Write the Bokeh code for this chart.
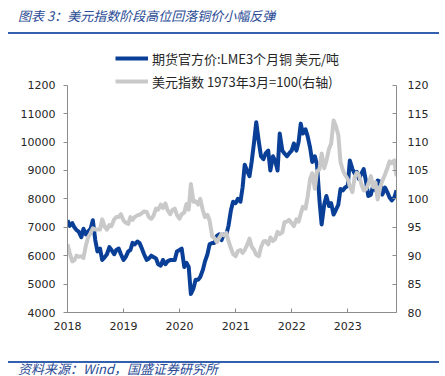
from datetime import datetime
import pandas as pd
from bokeh.plotting import figure
from bokeh.layouts import column
from bokeh.models import (Range1d, LinearAxis, FixedTicker, DatetimeTickFormatter,
                          Legend, LegendItem, Div)
from bokeh.embed import file_html
from bokeh.resources import INLINE

# ---------------- data (semi-monthly readings, 1st and 15th) ----------------
dates = pd.date_range("2018-01-01", "2023-11-15", freq="SMS")

copper = [
    # 2018
    7250, 7050, 7150, 7000, 6900, 6850, 6650, 6950, 6750, 6850, 6950, 7250,
    6550, 6150, 6250, 5850, 5950, 6050, 6300, 6200, 6050, 6200, 6250, 6050,
    # 2019
    5850, 5950, 6150, 6200, 6450, 6400, 6500, 6450, 6250, 6050, 5850, 5900,
    6000, 5950, 5900, 5700, 5650, 5850, 5700, 5800, 5850, 5850, 5850, 6150,
    # 2020
    6200, 6250, 5600, 5750, 5600, 4650, 4850, 5150, 5150, 5250, 5500, 5800,
    6050, 6400, 6450, 6450, 6700, 6750, 6550, 6750, 6750, 7050, 7600, 7900,
    # 2021
    7850, 8000, 7900, 8400, 9200, 9000, 8800, 9300, 10000, 10700, 10000, 9500,
    9400, 9600, 9700, 9000, 9500, 9350, 9000, 10300, 9700, 9600, 9500, 9600,
    # 2022
    9700, 9950, 9700, 10000, 10650, 10300, 10450, 10200, 9800, 9300, 9500, 9200,
    7950, 7100, 7800, 8100, 7750, 7850, 7450, 7600, 7800, 8350, 8300, 8400,
    # 2023
    8450, 9350, 9050, 8900, 8950, 8700, 8900, 9050, 8600, 8100, 8150, 8450,
    8300, 8650, 8600, 8150, 8400, 8250, 8050, 7950, 8050, 8300,
]

dxy = [
    # 2018
    92.0, 90.5, 89.0, 89.2, 90.0, 89.8, 89.9, 89.6, 91.8, 93.2, 94.0, 94.8,
    94.6, 94.6, 94.6, 96.4, 95.1, 94.6, 95.4, 95.2, 96.4, 96.8, 96.8, 97.3,
    # 2019
    96.2, 95.8, 95.6, 96.8, 96.3, 96.8, 97.1, 97.2, 97.5, 97.8, 97.7, 96.8,
    96.5, 97.0, 98.3, 98.1, 99.0, 98.4, 99.2, 98.0, 97.3, 98.0, 98.3, 97.2,
    # 2020
    96.5, 97.3, 97.6, 99.1, 98.1, 102.6, 99.5, 99.6, 99.0, 100.0, 98.0, 96.8,
    97.2, 96.2, 93.4, 93.1, 92.4, 93.1, 93.8, 93.6, 94.0, 92.6, 91.3, 90.3,
    # 2021
    89.9, 90.8, 91.0, 90.5, 91.0, 91.8, 93.0, 91.6, 91.0, 90.2, 89.9, 91.5,
    92.5, 92.6, 92.0, 93.2, 92.6, 92.9, 94.2, 93.8, 94.1, 95.9, 96.0, 96.3,
    # 2022
    95.7, 95.2, 96.4, 96.0, 97.4, 98.6, 98.3, 100.4, 103.5, 104.5, 101.8, 104.9,
    105.2, 108.0, 105.4, 106.7, 108.8, 109.7, 113.8, 112.9, 111.2, 106.5, 105.0, 104.2,
    # 2023
    103.5, 102.2, 101.2, 103.8, 104.6, 104.2, 102.5, 101.5, 101.7, 102.6, 104.0, 102.1,
    102.9, 99.9, 102.0, 103.2, 104.3, 105.3, 106.6, 106.3, 106.8, 104.0,
]

year_ticks = [datetime(y, 1, 1) for y in range(2018, 2024)]
left_ticks = [4000, 5000, 6000, 7000, 8000, 9000, 10000, 11000, 12000]
right_ticks = [80, 85, 90, 95, 100, 105, 110, 115, 120]

copper_label = "期货官方价:LME3个月铜 美元/吨"
dxy_label = "美元指数 1973年3月=100(右轴)"
title_text = "图表 3：美元指数阶段高位回落铜价小幅反弹"
source_text = "资料来源：Wind，国盛证券研究所"

BLUE = "#0A3F97"
GRAY = "#C9C9C9"
AXIS = "#8C8C8C"
TXT = "#262626"
HEAD = "#2A4B95"
RULE = "#3260AE"
CJK = "Noto Sans CJK SC"
NUM = "DejaVu Sans"
W = 445

# ---------------- header ----------------
head_html = (
    f'<div style="position:relative;width:{W}px;height:40px;">'
    f'<div style="position:absolute;left:18px;top:8px;white-space:nowrap;'
    f"font-family:'{CJK}';font-style:italic;font-size:13px;line-height:16px;"
    f'color:{HEAD};">{title_text}</div>'
    f'<div style="position:absolute;left:8px;top:32px;width:431px;height:2px;'
    f'background:{RULE};"></div></div>'
)
header = Div(text=head_html, width=W, height=40, margin=0)

# ---------------- main chart ----------------
# frame spans page y 45..312; values 12000 / 120 sit at page y 85
ts = [t.timestamp() * 1000 for t in year_ticks]
p = figure(width=W, height=300, x_axis_type="datetime",
           x_range=Range1d(datetime(2018, 1, 1), datetime(2023, 11, 15)),
           y_range=Range1d(4000, 13400),
           output_backend="svg", toolbar_location=None,
           min_border_left=67, min_border_right=49, min_border_top=5,
           min_border_bottom=28, margin=0)
p.extra_y_ranges = {"dxy": Range1d(80, 127.0)}
p.grid.visible = False
p.outline_line_color = None

r1 = p.line(dates, copper, line_color=BLUE, line_width=4, line_join="round")
r2 = p.line(dates, dxy, line_color=GRAY, line_width=4, line_join="round",
            y_range_name="dxy")

xa = p.xaxis[0]
xa.ticker = FixedTicker(ticks=ts)
xa.formatter = DatetimeTickFormatter(years="%Y", months="%Y", days="%Y",
                                     hours="%Y", minutes="%Y")
xa.major_tick_in = 4
xa.major_tick_out = 0
xa.minor_tick_line_color = None
xa.major_label_standoff = 9

ya = p.yaxis[0]
ya.ticker = FixedTicker(ticks=left_ticks)
ya.bounds = (4000, 12000)
ya.major_label_overrides = {12000: "1200"}
ya.major_tick_in = 0
ya.major_tick_out = 4
ya.minor_tick_line_color = None
ya.major_label_standoff = 8

ra = LinearAxis(y_range_name="dxy", ticker=FixedTicker(ticks=right_ticks),
                bounds=(80, 120))
ra.major_tick_in = 4
ra.major_tick_out = 0
ra.minor_tick_line_color = None
ra.major_label_standoff = 11
p.add_layout(ra, "right")

for ax in (xa, ya, ra):
    ax.axis_line_color = AXIS
    ax.major_tick_line_color = AXIS
    ax.major_label_text_font = NUM
    ax.major_label_text_font_size = "11px"
    ax.major_label_text_color = TXT

legend = Legend(items=[LegendItem(label=copper_label, renderers=[r1]),
                       LegendItem(label=dxy_label, renderers=[r2])],
                location=(48, 221), orientation="vertical",
                padding=0, margin=0, spacing=3,
                glyph_width=33, glyph_height=20, label_height=20,
                label_standoff=4,
                label_text_font=CJK, label_text_font_size="13px",
                label_text_color=TXT,
                border_line_color=None, background_fill_alpha=0)
p.add_layout(legend, "center")

# ---------------- footer ----------------
foot_html = (
    f'<div style="position:relative;width:{W}px;height:36px;">'
    f'<div style="position:absolute;left:8px;top:21px;width:431px;height:2px;'
    f'background:{RULE};"></div>'
    f'<div style="position:absolute;left:18px;top:23px;white-space:nowrap;'
    f"font-family:'{CJK}';font-style:italic;font-size:13px;line-height:12px;"
    f'color:{HEAD};">{source_text}</div></div>'
)
footer = Div(text=foot_html, width=W, height=36, margin=0)

layout = column(header, p, footer, spacing=0)
open("out.html", "w").write(file_html(layout, INLINE))
